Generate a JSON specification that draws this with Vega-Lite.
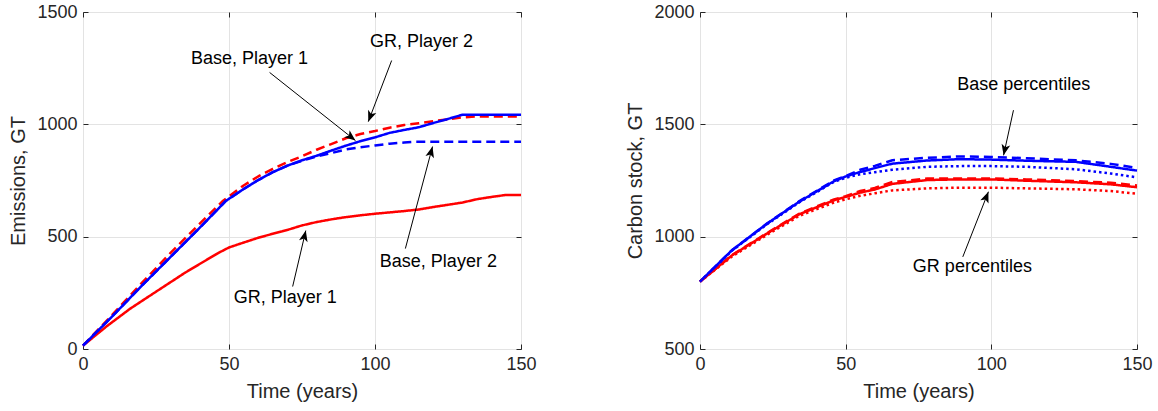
{
  "$schema": "https://vega.github.io/schema/vega-lite/v6.json",
  "background": "white",
  "padding": {"left": 8, "top": 2, "right": 5, "bottom": 5},
  "spacing": 88,
  "config": {
    "font": "Liberation Sans",
    "view": {"stroke": "#262626", "strokeWidth": 1},
    "axis": {
      "domain": false, "grid": true, "gridColor": "#e3e3e3", "gridWidth": 1,
      "tickColor": "#262626", "tickSize": -5, "tickWidth": 1,
      "labelFont": "Liberation Sans", "labelFontSize": 18, "labelColor": "#262626", "labelPadding": 11,
      "titleFont": "Liberation Sans", "titleFontSize": 20, "titleFontWeight": "normal", "titleColor": "#262626", "titlePadding": 8,
      "labelFlush": false, "labelOverlap": false, "format": "d"
    }
  },
  "datasets": {
    "emis": [
      {"t":0,"v":15,"scenario":"GR","player":"Player 1"},{"t":8,"v":100,"scenario":"GR","player":"Player 1"},{"t":16,"v":178,"scenario":"GR","player":"Player 1"},{"t":25,"v":255,"scenario":"GR","player":"Player 1"},{"t":35,"v":340,"scenario":"GR","player":"Player 1"},{"t":46,"v":425,"scenario":"GR","player":"Player 1"},{"t":50,"v":452,"scenario":"GR","player":"Player 1"},{"t":56,"v":478,"scenario":"GR","player":"Player 1"},{"t":60,"v":495,"scenario":"GR","player":"Player 1"},{"t":65,"v":513,"scenario":"GR","player":"Player 1"},{"t":70,"v":530,"scenario":"GR","player":"Player 1"},{"t":75,"v":550,"scenario":"GR","player":"Player 1"},{"t":80,"v":565,"scenario":"GR","player":"Player 1"},{"t":85,"v":577,"scenario":"GR","player":"Player 1"},{"t":90,"v":587,"scenario":"GR","player":"Player 1"},{"t":95,"v":595,"scenario":"GR","player":"Player 1"},{"t":100,"v":602,"scenario":"GR","player":"Player 1"},{"t":105,"v":608,"scenario":"GR","player":"Player 1"},{"t":110,"v":614,"scenario":"GR","player":"Player 1"},{"t":115,"v":621,"scenario":"GR","player":"Player 1"},{"t":120,"v":632,"scenario":"GR","player":"Player 1"},{"t":125,"v":642,"scenario":"GR","player":"Player 1"},{"t":130,"v":652,"scenario":"GR","player":"Player 1"},{"t":135,"v":667,"scenario":"GR","player":"Player 1"},{"t":140,"v":677,"scenario":"GR","player":"Player 1"},{"t":145,"v":686,"scenario":"GR","player":"Player 1"},{"t":150,"v":686,"scenario":"GR","player":"Player 1"},
      {"t":0,"v":15,"scenario":"GR","player":"Player 2"},{"t":10,"v":152,"scenario":"GR","player":"Player 2"},{"t":20,"v":292,"scenario":"GR","player":"Player 2"},{"t":30,"v":428,"scenario":"GR","player":"Player 2"},{"t":40,"v":558,"scenario":"GR","player":"Player 2"},{"t":48,"v":660,"scenario":"GR","player":"Player 2"},{"t":55,"v":728,"scenario":"GR","player":"Player 2"},{"t":60,"v":768,"scenario":"GR","player":"Player 2"},{"t":65,"v":802,"scenario":"GR","player":"Player 2"},{"t":70,"v":832,"scenario":"GR","player":"Player 2"},{"t":75,"v":858,"scenario":"GR","player":"Player 2"},{"t":80,"v":887,"scenario":"GR","player":"Player 2"},{"t":85,"v":912,"scenario":"GR","player":"Player 2"},{"t":90,"v":938,"scenario":"GR","player":"Player 2"},{"t":95,"v":957,"scenario":"GR","player":"Player 2"},{"t":100,"v":970,"scenario":"GR","player":"Player 2"},{"t":105,"v":985,"scenario":"GR","player":"Player 2"},{"t":110,"v":997,"scenario":"GR","player":"Player 2"},{"t":115,"v":1005,"scenario":"GR","player":"Player 2"},{"t":120,"v":1014,"scenario":"GR","player":"Player 2"},{"t":125,"v":1022,"scenario":"GR","player":"Player 2"},{"t":130,"v":1031,"scenario":"GR","player":"Player 2"},{"t":135,"v":1035,"scenario":"GR","player":"Player 2"},{"t":150,"v":1035,"scenario":"GR","player":"Player 2"},
      {"t":0,"v":15,"scenario":"Base","player":"Player 2"},{"t":10,"v":145,"scenario":"Base","player":"Player 2"},{"t":20,"v":280,"scenario":"Base","player":"Player 2"},{"t":30,"v":410,"scenario":"Base","player":"Player 2"},{"t":40,"v":540,"scenario":"Base","player":"Player 2"},{"t":49,"v":660,"scenario":"Base","player":"Player 2"},{"t":55,"v":712,"scenario":"Base","player":"Player 2"},{"t":60,"v":752,"scenario":"Base","player":"Player 2"},{"t":65,"v":787,"scenario":"Base","player":"Player 2"},{"t":70,"v":816,"scenario":"Base","player":"Player 2"},{"t":75,"v":838,"scenario":"Base","player":"Player 2"},{"t":80,"v":857,"scenario":"Base","player":"Player 2"},{"t":85,"v":872,"scenario":"Base","player":"Player 2"},{"t":90,"v":888,"scenario":"Base","player":"Player 2"},{"t":95,"v":898,"scenario":"Base","player":"Player 2"},{"t":100,"v":906,"scenario":"Base","player":"Player 2"},{"t":105,"v":914,"scenario":"Base","player":"Player 2"},{"t":110,"v":919,"scenario":"Base","player":"Player 2"},{"t":114,"v":922,"scenario":"Base","player":"Player 2"},{"t":150,"v":922,"scenario":"Base","player":"Player 2"},
      {"t":0,"v":15,"scenario":"Base","player":"Player 1"},{"t":10,"v":145,"scenario":"Base","player":"Player 1"},{"t":20,"v":280,"scenario":"Base","player":"Player 1"},{"t":30,"v":410,"scenario":"Base","player":"Player 1"},{"t":40,"v":540,"scenario":"Base","player":"Player 1"},{"t":49,"v":660,"scenario":"Base","player":"Player 1"},{"t":55,"v":712,"scenario":"Base","player":"Player 1"},{"t":60,"v":752,"scenario":"Base","player":"Player 1"},{"t":65,"v":787,"scenario":"Base","player":"Player 1"},{"t":70,"v":816,"scenario":"Base","player":"Player 1"},{"t":75,"v":840,"scenario":"Base","player":"Player 1"},{"t":80,"v":860,"scenario":"Base","player":"Player 1"},{"t":85,"v":883,"scenario":"Base","player":"Player 1"},{"t":90,"v":905,"scenario":"Base","player":"Player 1"},{"t":95,"v":925,"scenario":"Base","player":"Player 1"},{"t":100,"v":942,"scenario":"Base","player":"Player 1"},{"t":105,"v":962,"scenario":"Base","player":"Player 1"},{"t":110,"v":975,"scenario":"Base","player":"Player 1"},{"t":115,"v":987,"scenario":"Base","player":"Player 1"},{"t":120,"v":1006,"scenario":"Base","player":"Player 1"},{"t":125,"v":1024,"scenario":"Base","player":"Player 1"},{"t":130,"v":1043,"scenario":"Base","player":"Player 1"},{"t":150,"v":1043,"scenario":"Base","player":"Player 1"}
    ],
    "carbon": [
      {"t":0,"v":800,"scenario":"GR","pct":"lower"},{"t":11,"v":912,"scenario":"GR","pct":"lower"},{"t":23,"v":1008,"scenario":"GR","pct":"lower"},{"t":34,"v":1092,"scenario":"GR","pct":"lower"},{"t":46,"v":1152,"scenario":"GR","pct":"lower"},{"t":50,"v":1166,"scenario":"GR","pct":"lower"},{"t":55,"v":1182,"scenario":"GR","pct":"lower"},{"t":60,"v":1193,"scenario":"GR","pct":"lower"},{"t":66,"v":1206,"scenario":"GR","pct":"lower"},{"t":78,"v":1215,"scenario":"GR","pct":"lower"},{"t":89,"v":1218,"scenario":"GR","pct":"lower"},{"t":100,"v":1218,"scenario":"GR","pct":"lower"},{"t":112,"v":1215,"scenario":"GR","pct":"lower"},{"t":129,"v":1211,"scenario":"GR","pct":"lower"},{"t":141,"v":1203,"scenario":"GR","pct":"lower"},{"t":150,"v":1191,"scenario":"GR","pct":"lower"},
      {"t":0,"v":800,"scenario":"GR","pct":"upper"},{"t":11,"v":918,"scenario":"GR","pct":"upper"},{"t":23,"v":1016,"scenario":"GR","pct":"upper"},{"t":34,"v":1102,"scenario":"GR","pct":"upper"},{"t":46,"v":1166,"scenario":"GR","pct":"upper"},{"t":50,"v":1180,"scenario":"GR","pct":"upper"},{"t":55,"v":1203,"scenario":"GR","pct":"upper"},{"t":60,"v":1217,"scenario":"GR","pct":"upper"},{"t":66,"v":1243,"scenario":"GR","pct":"upper"},{"t":78,"v":1259,"scenario":"GR","pct":"upper"},{"t":89,"v":1259,"scenario":"GR","pct":"upper"},{"t":100,"v":1259,"scenario":"GR","pct":"upper"},{"t":112,"v":1255,"scenario":"GR","pct":"upper"},{"t":129,"v":1247,"scenario":"GR","pct":"upper"},{"t":141,"v":1240,"scenario":"GR","pct":"upper"},{"t":150,"v":1228,"scenario":"GR","pct":"upper"},
      {"t":0,"v":800,"scenario":"GR","pct":"median"},{"t":11,"v":917,"scenario":"GR","pct":"median"},{"t":23,"v":1014,"scenario":"GR","pct":"median"},{"t":34,"v":1099,"scenario":"GR","pct":"median"},{"t":46,"v":1162,"scenario":"GR","pct":"median"},{"t":50,"v":1177,"scenario":"GR","pct":"median"},{"t":55,"v":1196,"scenario":"GR","pct":"median"},{"t":60,"v":1210,"scenario":"GR","pct":"median"},{"t":66,"v":1235,"scenario":"GR","pct":"median"},{"t":78,"v":1252,"scenario":"GR","pct":"median"},{"t":89,"v":1255,"scenario":"GR","pct":"median"},{"t":100,"v":1255,"scenario":"GR","pct":"median"},{"t":112,"v":1249,"scenario":"GR","pct":"median"},{"t":129,"v":1242,"scenario":"GR","pct":"median"},{"t":141,"v":1233,"scenario":"GR","pct":"median"},{"t":150,"v":1220,"scenario":"GR","pct":"median"},
      {"t":0,"v":800,"scenario":"Base","pct":"lower"},{"t":11,"v":938,"scenario":"Base","pct":"lower"},{"t":23,"v":1055,"scenario":"Base","pct":"lower"},{"t":34,"v":1152,"scenario":"Base","pct":"lower"},{"t":46,"v":1244,"scenario":"Base","pct":"lower"},{"t":50,"v":1262,"scenario":"Base","pct":"lower"},{"t":55,"v":1278,"scenario":"Base","pct":"lower"},{"t":60,"v":1287,"scenario":"Base","pct":"lower"},{"t":66,"v":1298,"scenario":"Base","pct":"lower"},{"t":78,"v":1311,"scenario":"Base","pct":"lower"},{"t":89,"v":1314,"scenario":"Base","pct":"lower"},{"t":100,"v":1314,"scenario":"Base","pct":"lower"},{"t":112,"v":1311,"scenario":"Base","pct":"lower"},{"t":129,"v":1300,"scenario":"Base","pct":"lower"},{"t":141,"v":1281,"scenario":"Base","pct":"lower"},{"t":150,"v":1264,"scenario":"Base","pct":"lower"},
      {"t":0,"v":800,"scenario":"Base","pct":"upper"},{"t":11,"v":940,"scenario":"Base","pct":"upper"},{"t":23,"v":1058,"scenario":"Base","pct":"upper"},{"t":34,"v":1157,"scenario":"Base","pct":"upper"},{"t":46,"v":1250,"scenario":"Base","pct":"upper"},{"t":50,"v":1270,"scenario":"Base","pct":"upper"},{"t":55,"v":1298,"scenario":"Base","pct":"upper"},{"t":60,"v":1315,"scenario":"Base","pct":"upper"},{"t":66,"v":1340,"scenario":"Base","pct":"upper"},{"t":78,"v":1351,"scenario":"Base","pct":"upper"},{"t":89,"v":1357,"scenario":"Base","pct":"upper"},{"t":100,"v":1355,"scenario":"Base","pct":"upper"},{"t":112,"v":1349,"scenario":"Base","pct":"upper"},{"t":129,"v":1340,"scenario":"Base","pct":"upper"},{"t":141,"v":1324,"scenario":"Base","pct":"upper"},{"t":150,"v":1306,"scenario":"Base","pct":"upper"},
      {"t":0,"v":800,"scenario":"Base","pct":"median"},{"t":11,"v":940,"scenario":"Base","pct":"median"},{"t":23,"v":1058,"scenario":"Base","pct":"median"},{"t":34,"v":1155,"scenario":"Base","pct":"median"},{"t":46,"v":1247,"scenario":"Base","pct":"median"},{"t":50,"v":1268,"scenario":"Base","pct":"median"},{"t":55,"v":1288,"scenario":"Base","pct":"median"},{"t":60,"v":1305,"scenario":"Base","pct":"median"},{"t":66,"v":1325,"scenario":"Base","pct":"median"},{"t":78,"v":1339,"scenario":"Base","pct":"median"},{"t":89,"v":1345,"scenario":"Base","pct":"median"},{"t":100,"v":1343,"scenario":"Base","pct":"median"},{"t":112,"v":1338,"scenario":"Base","pct":"median"},{"t":129,"v":1333,"scenario":"Base","pct":"median"},{"t":141,"v":1311,"scenario":"Base","pct":"median"},{"t":150,"v":1294,"scenario":"Base","pct":"median"}
    ],
    "arrowsL": [
      {"x0":63.9,"y0":1231,"x1":93.3,"y1":928},
      {"x0":105.7,"y0":1284,"x1":97.7,"y1":1012},
      {"x0":110.4,"y0":447,"x1":119.7,"y1":901},
      {"x0":71.8,"y0":278,"x1":76.3,"y1":527}
    ],
    "arrowsR": [
      {"x0":107.6,"y0":1563,"x1":104.2,"y1":1362},
      {"x0":90.2,"y0":910,"x1":99.0,"y1":1200}
    ],
    "labelsL": [
      {"t":57.0,"v":1293,"label":"Base, Player 1"},
      {"t":115.9,"v":1368,"label":"GR, Player 2"},
      {"t":121.7,"v":389,"label":"Base, Player 2"},
      {"t":69.3,"v":225,"label":"GR, Player 1"}
    ],
    "labelsR": [
      {"t":111.1,"v":1674,"label":"Base percentiles"},
      {"t":93.5,"v":863,"label":"GR percentiles"}
    ]
  },
  "hconcat": [
    {
      "width": 438, "height": 337,
      "layer": [
        {
          "data": {"name": "emis"},
          "mark": {"type": "line", "strokeWidth": 2.5, "strokeCap": "butt", "strokeJoin": "round"},
          "encoding": {
            "x": {"field": "t", "type": "quantitative", "scale": {"domain": [0, 150], "nice": false},
                  "axis": {"orient": "bottom", "title": "Time (years)", "values": [0, 50, 100, 150]}},
            "y": {"field": "v", "type": "quantitative", "scale": {"domain": [0, 1500], "nice": false},
                  "axis": {"orient": "left", "title": "Emissions, GT", "values": [0, 500, 1000, 1500]}},
            "color": {"field": "scenario", "type": "nominal", "scale": {"domain": ["Base", "GR"], "range": ["#0000ff", "#ff0000"]}, "legend": null},
            "strokeDash": {"field": "player", "type": "nominal", "scale": {"domain": ["Player 1", "Player 2"], "range": [[1, 0], [9, 5]]}, "legend": null}
          }
        },
        {
          "data": {"name": "arrowsL"},
          "mark": {"type": "rule", "color": "black", "strokeWidth": 1},
          "encoding": {
            "x": {"field": "x0", "type": "quantitative", "axis": null},
            "y": {"field": "y0", "type": "quantitative", "axis": null},
            "x2": {"field": "x1"},
            "y2": {"field": "y1"}
          }
        },
        {
          "data": {"name": "arrowsL"},
          "transform": [{"calculate": "atan2((datum.x1 - datum.x0) * 2.92, (datum.y1 - datum.y0) * 0.22467) * 180 / PI", "as": "ang"}],
          "mark": {"type": "point", "shape": "M0,0L-0.8,2L0,1.5L0.8,2Z", "filled": true, "color": "black", "opacity": 1, "size": 120, "strokeWidth": 0},
          "encoding": {
            "x": {"field": "x1", "type": "quantitative", "axis": null},
            "y": {"field": "y1", "type": "quantitative", "axis": null},
            "angle": {"field": "ang", "type": "quantitative", "scale": null}
          }
        },
        {
          "data": {"name": "labelsL"},
          "mark": {"type": "text", "fontSize": 18, "font": "Liberation Sans", "color": "black", "align": "center", "baseline": "middle"},
          "encoding": {
            "x": {"field": "t", "type": "quantitative",
                  "axis": {"orient": "top", "title": null, "labels": false, "grid": false, "values": [0, 50, 100, 150]}},
            "y": {"field": "v", "type": "quantitative",
                  "axis": {"orient": "right", "title": null, "labels": false, "grid": false, "values": [0, 500, 1000, 1500]}},
            "text": {"field": "label"}
          }
        }
      ],
      "resolve": {"axis": {"x": "independent", "y": "independent"}}
    },
    {
      "width": 437, "height": 337,
      "layer": [
        {
          "data": {"name": "carbon"},
          "transform": [{"filter": "datum.pct !== 'lower'"}],
          "mark": {"type": "line", "strokeWidth": 2.5, "strokeCap": "butt", "strokeJoin": "miter"},
          "encoding": {
            "x": {"field": "t", "type": "quantitative", "scale": {"domain": [0, 150], "nice": false},
                  "axis": {"orient": "bottom", "title": "Time (years)", "values": [0, 50, 100, 150]}},
            "y": {"field": "v", "type": "quantitative", "scale": {"domain": [500, 2000], "nice": false, "zero": false},
                  "axis": {"orient": "left", "title": "Carbon stock, GT", "values": [500, 1000, 1500, 2000]}},
            "color": {"field": "scenario", "type": "nominal", "scale": {"domain": ["Base", "GR"], "range": ["#0000ff", "#ff0000"]}, "legend": null},
            "strokeDash": {"field": "pct", "type": "nominal", "scale": {"domain": ["median", "upper"], "range": [[1, 0], [9, 5]]}, "legend": null}
          }
        },
        {
          "data": {"name": "carbon"},
          "transform": [{"filter": "datum.pct === 'lower'"}],
          "mark": {"type": "line", "strokeWidth": 2.5, "strokeCap": "butt", "strokeDash": [2.5, 3]},
          "encoding": {
            "x": {"field": "t", "type": "quantitative", "axis": null},
            "y": {"field": "v", "type": "quantitative", "axis": null},
            "color": {"field": "scenario", "type": "nominal", "legend": null}
          }
        },
        {
          "data": {"name": "arrowsR"},
          "mark": {"type": "rule", "color": "black", "strokeWidth": 1},
          "encoding": {
            "x": {"field": "x0", "type": "quantitative", "axis": null},
            "y": {"field": "y0", "type": "quantitative", "axis": null},
            "x2": {"field": "x1"},
            "y2": {"field": "y1"}
          }
        },
        {
          "data": {"name": "arrowsR"},
          "transform": [{"calculate": "atan2((datum.x1 - datum.x0) * 2.913, (datum.y1 - datum.y0) * 0.22467) * 180 / PI", "as": "ang"}],
          "mark": {"type": "point", "shape": "M0,0L-0.8,2L0,1.5L0.8,2Z", "filled": true, "color": "black", "opacity": 1, "size": 120, "strokeWidth": 0},
          "encoding": {
            "x": {"field": "x1", "type": "quantitative", "axis": null},
            "y": {"field": "y1", "type": "quantitative", "axis": null},
            "angle": {"field": "ang", "type": "quantitative", "scale": null}
          }
        },
        {
          "data": {"name": "labelsR"},
          "mark": {"type": "text", "fontSize": 18, "font": "Liberation Sans", "color": "black", "align": "center", "baseline": "middle"},
          "encoding": {
            "x": {"field": "t", "type": "quantitative",
                  "axis": {"orient": "top", "title": null, "labels": false, "grid": false, "values": [0, 50, 100, 150]}},
            "y": {"field": "v", "type": "quantitative",
                  "axis": {"orient": "right", "title": null, "labels": false, "grid": false, "values": [500, 1000, 1500, 2000]}},
            "text": {"field": "label"}
          }
        }
      ],
      "resolve": {"axis": {"x": "independent", "y": "independent"}}
    }
  ]
}
